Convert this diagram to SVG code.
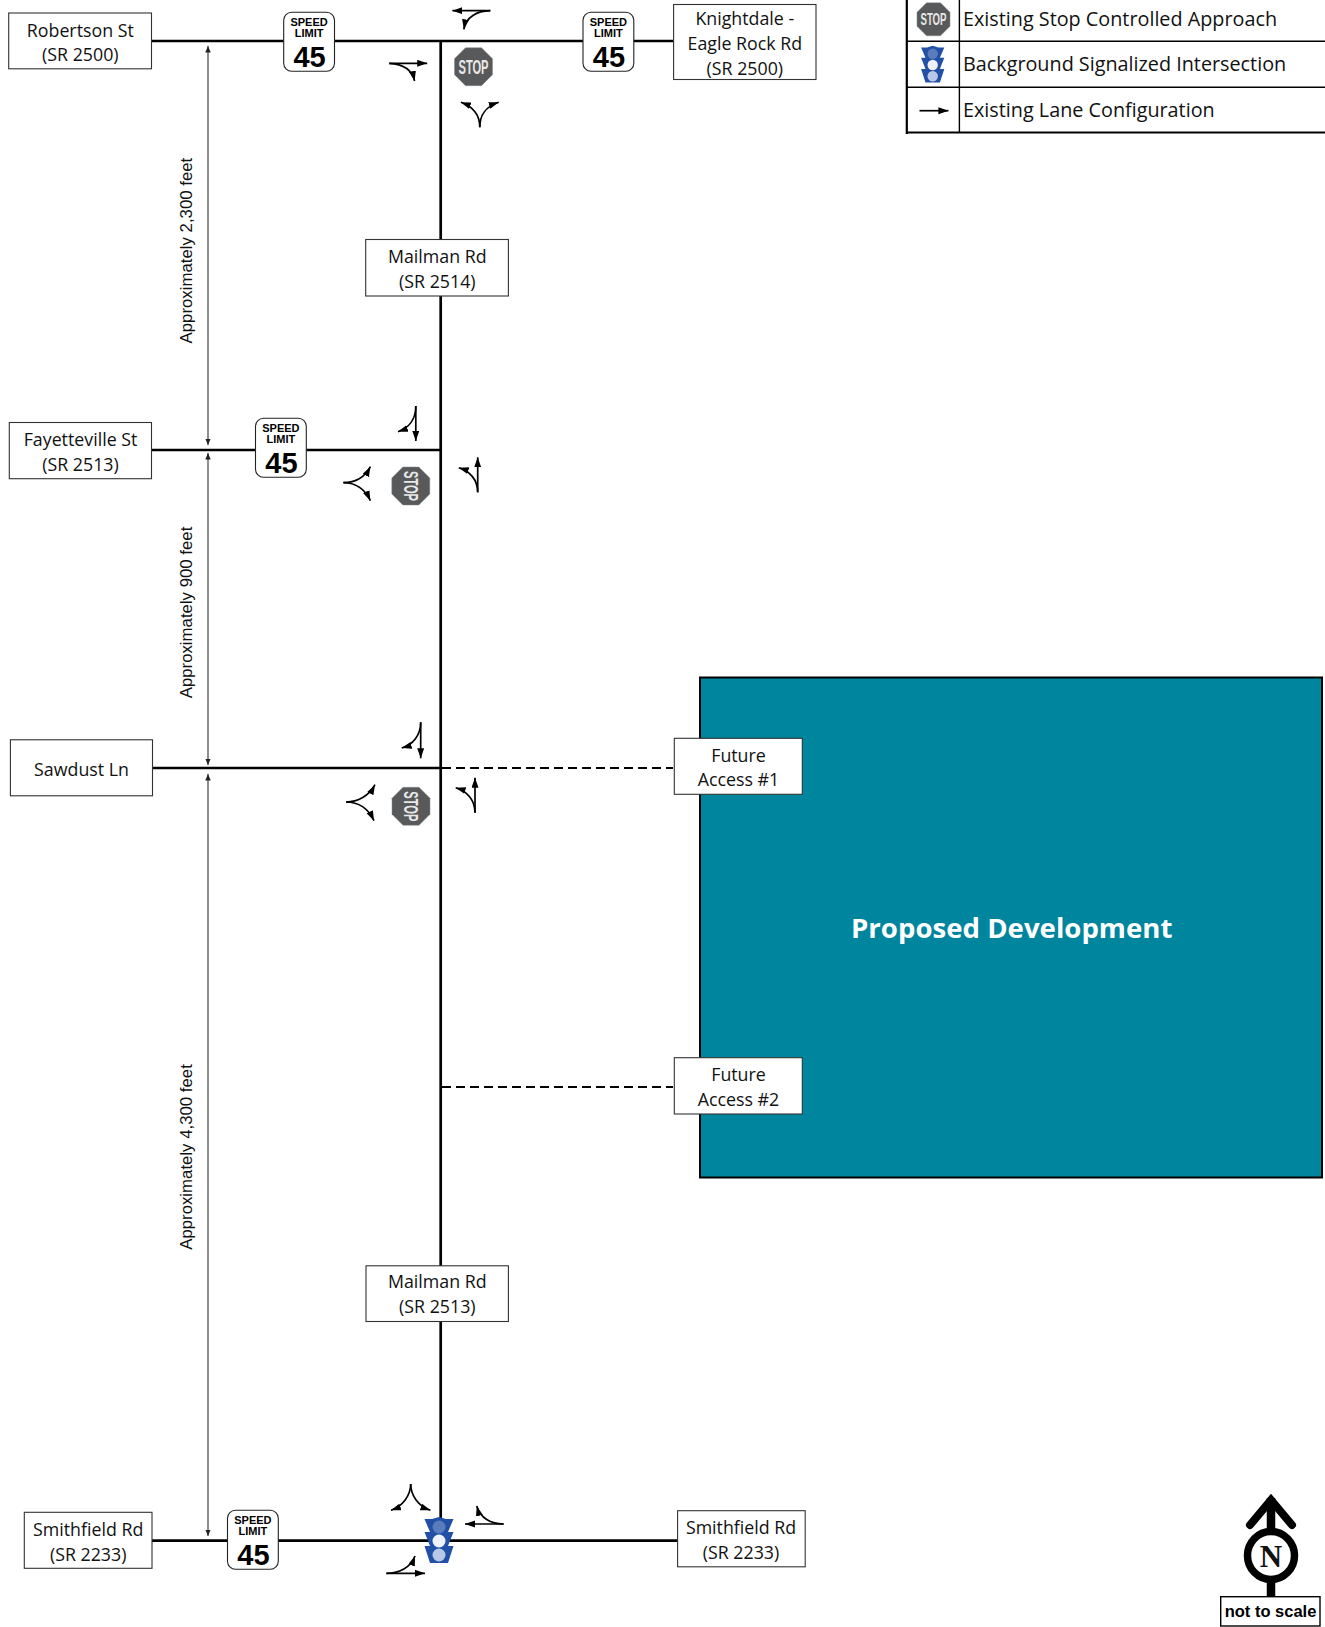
<svg xmlns="http://www.w3.org/2000/svg" xmlns:xlink="http://www.w3.org/1999/xlink" width="1325" height="1627" viewBox="0 0 1325 1627">
<style>
.road{stroke:#000;stroke-width:2.700;fill:none}
.dash{stroke:#000;stroke-width:2.200;fill:none;stroke-dasharray:9 5}
.dim{stroke:#444;stroke-width:1.200;fill:none;marker-start:url(#dh);marker-end:url(#dh)}
.lane{stroke:#000;stroke-width:1.700;fill:none;marker-end:url(#ah)}
.box{fill:#fff;stroke:#333;stroke-width:1.100}
.t{font-family:"Open Sans","Noto Sans",sans-serif;font-size:17.800px;fill:#111;text-anchor:middle}
.l{font-family:"Open Sans","Noto Sans",sans-serif;font-size:19.800px;fill:#111}
.a{font-family:"Liberation Sans",Arial,sans-serif;font-size:16.800px;fill:#111;text-anchor:middle}
.sg{fill:#fff;stroke:#222;stroke-width:1.100}
.s1{font-family:"Liberation Sans",Arial,sans-serif;font-weight:700;font-size:11px;text-anchor:middle;fill:#000}
.s2{font-family:"Liberation Sans",Arial,sans-serif;font-weight:700;font-size:29px;text-anchor:middle;fill:#000}
.oct{fill:#58595b;stroke:#8a8a8a;stroke-width:.5}
.st{font-family:"Liberation Sans",Arial,sans-serif;font-weight:700;font-size:20px;text-anchor:middle;fill:#e8e8e8}
.leg{stroke:#000;stroke-width:1.400;fill:none}
</style>
<defs>
<marker id="ah" markerUnits="userSpaceOnUse" markerWidth="12" markerHeight="8" refX="10" refY="3.500" orient="auto"><path d="M0 0L10 3.500L0 7Z" fill="#000"/></marker>
<marker id="dh" markerUnits="userSpaceOnUse" markerWidth="8" markerHeight="8" refX="6.500" refY="2.750" orient="auto-start-reverse"><path d="M0 0L6.500 2.750L0 5.500Z" fill="#222"/></marker>
<path id="octagon" class="oct" d="M-8-19H8L19-8V8L8 19H-8L-19 8V-8Z"/>
<g id="signal">
<path fill="#2150a6" d="M-14.500-22H-7L0-24L7-22H14.500L9-9H14.500L9 5H14.500L9 22H-9L-14.500 5H-9L-14.500-9H-9Z"/>
<circle cy="-14" r="6.500" fill="#5b7cbc"/><circle cy="0" r="6.500" fill="#eef1f7"/><circle cy="14" r="6.500" fill="#b9c8e6"/>
</g>
</defs>

<rect id="proposed-development-area" x="700" y="677.500" width="622" height="500" fill="#00859e" stroke="#000" stroke-width="2"/>

<g id="connectors">
<path class="road" d="M151.500 41H673.500"/>
<path class="road" d="M440.700 41V1540"/>
<path class="road" d="M151.500 450H440.700"/>
<path class="road" d="M152.500 768H441"/>
<path class="road" d="M152 1540.700H677.600"/>
<path class="dash" d="M442 768H673"/>
<path class="dash" d="M442 1087H673"/>
<path class="dim" d="M208 46V445"/>
<path class="dim" d="M208 453V765"/>
<path class="dim" d="M208 774V1536"/>
</g>

<g id="lanes">
<path class="lane" d="M490.300 10.700H452.400"/><path class="lane" d="M490.300 10.700C477 11 466 17 463.800 29.300"/>
<path class="lane" d="M389.300 63.300H427.200"/><path class="lane" d="M389.300 63.300C402 64 412 69 414.600 81"/>
<path class="lane" d="M479.800 127.300C479.800 115 474 107 460.900 102.300"/><path class="lane" d="M479.800 127.300C479.800 115 485 107 498.700 102.300"/>
<path class="lane" d="M415.800 406V441"/><path class="lane" d="M415.800 406C415.800 419 409 428 398 431.700"/>
<path class="lane" d="M477.700 492.300V457.300"/><path class="lane" d="M477.700 492.300C477.700 480 470 471 458.800 467.700"/>
<path class="lane" d="M343.400 482.700C355 482.700 365 477 370.400 466.700"/><path class="lane" d="M343.400 482.700C355 482.700 365 489 370.400 500.700"/>
<path class="lane" d="M420.700 722.300V758.300"/><path class="lane" d="M420.700 722.300C420.700 735 413 745 401.700 748"/>
<path class="lane" d="M475 812.700V777.700"/><path class="lane" d="M475 812.700C475 800 467 791 455.700 787.700"/>
<path class="lane" d="M346 802C358 802 369 796 375 784.700"/><path class="lane" d="M346 802C358 802 368 808 374 820.700"/>
<path class="lane" d="M410.700 1484C410.700 1495 403 1506 391 1510.300"/><path class="lane" d="M410.700 1484C410.700 1495 418 1506 430.400 1510.300"/>
<path class="lane" d="M503.600 1524H465"/><path class="lane" d="M503.600 1524C491 1524 480 1518 476.800 1506"/>
<path class="lane" d="M386.400 1573.300H425"/><path class="lane" d="M386.400 1573.300C400 1573 411 1567 415 1556"/>
</g>

<g id="robertson-st"><rect class="box" x="8.700" y="13" width="142.800" height="55.800"/><text class="t" x="80.300" y="36.500">Robertson St</text><text class="t" x="80.300" y="61">(SR 2500)</text></g>
<g id="knightdale-rd"><rect class="box" x="673.600" y="4.500" width="142.400" height="75"/><text class="t" x="744.800" y="24.500">Knightdale -</text><text class="t" x="744.800" y="49.500">Eagle Rock Rd</text><text class="t" x="744.800" y="74.500">(SR 2500)</text></g>
<g id="mailman-rd-north"><rect class="box" x="365.700" y="239.500" width="142.700" height="56.500"/><text class="t" x="437.300" y="263">Mailman Rd</text><text class="t" x="437.300" y="288">(SR 2514)</text></g>
<g id="fayetteville-st"><rect class="box" x="9.300" y="422.500" width="142.200" height="56.200"/><text class="t" x="80.500" y="445.500">Fayetteville St</text><text class="t" x="80.500" y="470.500">(SR 2513)</text></g>
<g id="sawdust-ln"><rect class="box" x="10.400" y="739.800" width="142.100" height="56"/><text class="t" x="81.500" y="775.500">Sawdust Ln</text></g>
<g id="mailman-rd-south"><rect class="box" x="366" y="1265.800" width="142.400" height="55.700"/><text class="t" x="437.300" y="1287.500">Mailman Rd</text><text class="t" x="437.300" y="1312.500">(SR 2513)</text></g>
<g id="smithfield-rd-west"><rect class="box" x="24.300" y="1512.300" width="127.700" height="56"/><text class="t" x="88.200" y="1535.500">Smithfield Rd</text><text class="t" x="88.200" y="1560.500">(SR 2233)</text></g>
<g id="smithfield-rd-east"><rect class="box" x="677.600" y="1510.700" width="127.600" height="56.100"/><text class="t" x="741" y="1533.500">Smithfield Rd</text><text class="t" x="741" y="1558.500">(SR 2233)</text></g>
<g id="future-access-1"><rect class="box" x="674.300" y="738.300" width="128" height="56"/><text class="t" x="738.500" y="761.500">Future</text><text class="t" x="738.500" y="786">Access #1</text></g>
<g id="future-access-2"><rect class="box" x="674.300" y="1057.700" width="128" height="56.300"/><text class="t" x="738.500" y="1081">Future</text><text class="t" x="738.500" y="1106">Access #2</text></g>

<g id="proposed-development"><text x="1011.700" y="937.500" font-family="'Open Sans','Noto Sans',sans-serif" font-weight="700" font-size="27.600px" fill="#fff" text-anchor="middle">Proposed Development</text></g>

<g id="dim-2300"><text class="a" transform="translate(191.500 250.600) rotate(-90)">Approximately 2,300 feet</text></g>
<g id="dim-900"><text class="a" transform="translate(191.500 612.500) rotate(-90)">Approximately 900 feet</text></g>
<g id="dim-4300"><text class="a" transform="translate(191.500 1157) rotate(-90)">Approximately 4,300 feet</text></g>

<g id="speed-robertson" transform="translate(283.700 12.300)"><rect class="sg" width="50.800" height="59" rx="8"/><text class="s1" x="25.400" y="13.300">SPEED</text><text class="s1" x="25.400" y="25">LIMIT</text><text class="s2" x="25.900" y="54.500">45</text></g>
<g id="speed-knightdale" transform="translate(583 12.300)"><rect class="sg" width="50.800" height="59" rx="8"/><text class="s1" x="25.400" y="13.300">SPEED</text><text class="s1" x="25.400" y="25">LIMIT</text><text class="s2" x="25.900" y="54.500">45</text></g>
<g id="speed-fayetteville" transform="translate(255.500 418.300)"><rect class="sg" width="50.800" height="59" rx="8"/><text class="s1" x="25.400" y="13.300">SPEED</text><text class="s1" x="25.400" y="25">LIMIT</text><text class="s2" x="25.900" y="54.500">45</text></g>
<g id="speed-smithfield" transform="translate(227.500 1510.300)"><rect class="sg" width="50.800" height="59" rx="8"/><text class="s1" x="25.400" y="13.300">SPEED</text><text class="s1" x="25.400" y="25">LIMIT</text><text class="s2" x="25.900" y="54.500">45</text></g>

<g id="stop-robertson" transform="translate(473.500 66.700)"><use xlink:href="#octagon" href="#octagon"/><text class="st" y="7" textLength="30" lengthAdjust="spacingAndGlyphs">STOP</text></g>
<g id="stop-fayetteville" transform="translate(410.800 486) rotate(90)"><use xlink:href="#octagon" href="#octagon"/><text class="st" y="7" textLength="30" lengthAdjust="spacingAndGlyphs">STOP</text></g>
<g id="stop-sawdust" transform="translate(411 806.300) rotate(90)"><use xlink:href="#octagon" href="#octagon"/><text class="st" y="7" textLength="30" lengthAdjust="spacingAndGlyphs">STOP</text></g>
<g id="signal-smithfield" transform="translate(439 1541)"><use xlink:href="#signal" href="#signal"/></g>

<g id="legend">
<path class="leg" d="M959.400 0V132M906.800 41.300H1325M906.800 87.300H1325"/>
<path d="M906.800 0V134M906 132.500H1325" stroke="#000" stroke-width="2.200" fill="none"/>
<g transform="translate(933.500 19.300) scale(.87)"><use xlink:href="#octagon" href="#octagon"/><text class="st" y="7" textLength="30" lengthAdjust="spacingAndGlyphs">STOP</text></g>
<g transform="translate(932.700 65) scale(.8)"><use xlink:href="#signal" href="#signal"/></g>
<path class="lane" d="M919.500 110.700H948.400"/>
<text class="l" x="963" y="25.500">Existing Stop Controlled Approach</text>
<text class="l" x="963" y="71">Background Signalized Intersection</text>
<text class="l" x="963" y="117">Existing Lane Configuration</text>
</g>

<g id="north-arrow">
<path d="M1271 1596V1498" stroke="#000" stroke-width="8.500" fill="none"/>
<path d="M1250 1525L1271 1500L1292 1525" stroke="#000" stroke-width="8" stroke-linecap="round" fill="none"/>
<ellipse cx="1271" cy="1555.500" rx="23.500" ry="24" fill="#fff" stroke="#000" stroke-width="7.500"/>
<text x="1271" y="1567" font-family="'Liberation Serif',serif" font-size="31px" font-weight="700" text-anchor="middle" fill="#111">N</text>
<rect x="1220.700" y="1596.700" width="99.300" height="29.300" fill="#fff" stroke="#000" stroke-width="1.400"/>
<text x="1270.500" y="1617" font-family="'Liberation Sans',Arial,sans-serif" font-size="16.500px" font-weight="700" text-anchor="middle" fill="#000">not to scale</text>
</g>
</svg>
